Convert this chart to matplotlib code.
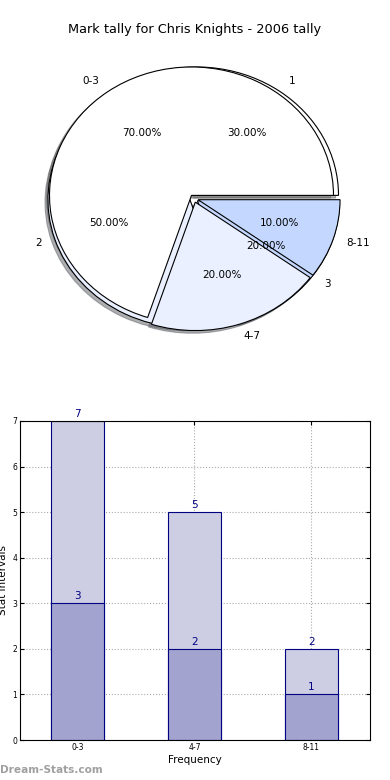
import numpy as np
import matplotlib.pyplot as plt

# pie data
labels_a = ["0-3", "4-7", "8-11"]
counts_a = [7, 2, 1]
labels_b = ["1", "2", "3"]
counts_b = [3, 5, 2]
pie_colors = ["white", "#eaf0ff", "#c4d8ff"]

# bar data
groups = ["0-3", "4-7", "8-11"]
totals = [7, 5, 2]
lower = [3, 2, 1]

fig = plt.figure(figsize=(3.9, 7.8), dpi=100)

# pie chart (two overlapping pies, elliptical like the old output)
ax1 = fig.add_axes([16.5 / 390, 1 - 359 / 780, 355 / 390, 321 / 780])
wp = {"edgecolor": "black", "linewidth": 0.8}
tp = {"fontsize": 7.5}
shad = {"ox": -0.015, "oy": -0.015, "shade": 0.6}
ax1.pie(counts_b, labels=labels_b, colors=pie_colors, explode=[0.03] * 3,
        autopct="%1.2f%%", shadow=shad, wedgeprops=wp, textprops=tp)
ax1.pie(counts_a, labels=labels_a, colors=pie_colors, explode=[0.03] * 3,
        autopct="%1.2f%%", shadow=shad, wedgeprops=wp, textprops=tp)
ax1.set_aspect("auto")
ax1.set_xlim(-1.25, 1.25)
ax1.set_ylim(-1.25, 1.25)
fig.text(0.5, 1 - 30 / 780, "Mark tally for Chris Knights - 2006 tally",
         ha="center", va="center", fontsize=9.3)

# stacked bar chart
ax2 = fig.add_axes([20 / 390, 40 / 780, 350 / 390, 319 / 780])
x = np.arange(len(groups))
bw = 0.45
ax2.bar(x, totals, bw, color="#cdcde4", edgecolor="navy", linewidth=0.8, zorder=2)
ax2.bar(x, lower, bw, color="#a3a3d0", edgecolor="navy", linewidth=0.8, zorder=2)
for xi, t, l in zip(x, totals, lower):
    ax2.text(xi, t + 0.05, str(t), ha="center", va="bottom", color="navy", fontsize=7.5)
    ax2.text(xi, l + 0.05, str(l), ha="center", va="bottom", color="navy", fontsize=7.5)
ax2.set_xlim(-0.49, 2.5)
ax2.set_ylim(0, 7)
ax2.set_xticks(x)
ax2.set_xticklabels(groups)
ax2.set_yticks(range(0, 8))
ax2.tick_params(direction="in", labelsize=5.5, top=True, right=True, pad=2, length=3)
ax2.grid(True, linestyle=":", color="#aaaaaa", linewidth=0.8, zorder=0)
ax2.set_axisbelow(True)
ax2.set_xlabel("Frequency", fontsize=7.5, labelpad=2)
fig.text(3 / 390, 1 - 580 / 780, "Stat Intervals", rotation=90,
         ha="center", va="center", fontsize=7.5)

fig.text(0.0, 1 - 770 / 780, "Dream-Stats.com", ha="left", va="center",
         fontsize=7.6, fontweight="bold", color="#a0a0a0")

fig.savefig("out.png", dpi=100)
